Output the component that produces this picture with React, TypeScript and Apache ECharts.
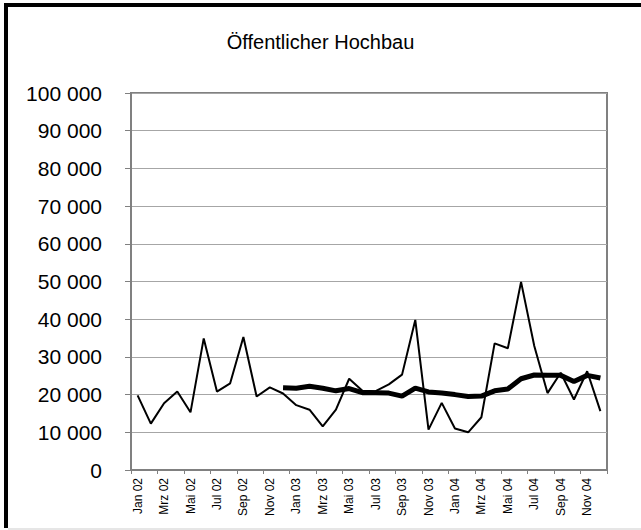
import React, { useEffect, useRef } from "react";
import * as echarts from "echarts";

const months = ["Jan", "Feb", "Mrz", "Apr", "Mai", "Jun", "Jul", "Aug", "Sep", "Okt", "Nov", "Dez"];
const years = ["02", "03", "04"];
const categories: string[] = years.flatMap((y) => months.map((m) => `${m} ${y}`));

const monthlyValues = [
  19800, 12300, 17700, 20800, 15300, 34900, 20800, 23000, 35300, 19500, 21900, 20300,
  17200, 16000, 11600, 16000, 24200, 21000, 20900, 22700, 25300, 39800, 10700, 17800,
  11000, 10000, 14000, 33600, 32300, 49900, 32900, 20400, 25800, 18700, 26200, 15600,
];

const movingAverage: (number | null)[] = [
  null, null, null, null, null, null, null, null, null, null, null, 21800,
  21700, 22200, 21700, 21000, 21600, 20500, 20500, 20400, 19600, 21700, 20700, 20400,
  20000, 19500, 19600, 21000, 21500, 24200, 25200, 25100, 25100, 23500, 25100, 24400,
];

const titleText = "Öffentlicher Hochbau";
const yMin = 0;
const yMax = 100000;
const yInterval = 10000;

const FONT = "'Liberation Sans', Arial, sans-serif";

function formatThousands(v: number): string {
  return String(v).replace(/\B(?=(\d{3})+(?!\d))/g, " ");
}

export default function App() {
  const ref = useRef<HTMLDivElement>(null);

  useEffect(() => {
    document.body.style.margin = "0";
    if (!ref.current) return;
    const chart = echarts.init(ref.current, null, { renderer: "svg" });
    chart.setOption({
      animation: false,
      backgroundColor: "#ffffff",
      title: {
        text: titleText,
        left: "center",
        top: 27,
        textStyle: { fontFamily: FONT, fontSize: 20, fontWeight: "normal", color: "#000" },
      },
      grid: {
        left: 131,
        top: 93,
        right: 34,
        bottom: 60,
        show: true,
        borderColor: "#808080",
        borderWidth: 2,
        backgroundColor: "transparent",
      },
      xAxis: {
        type: "category",
        data: categories,
        boundaryGap: true,
        axisLine: { show: true, lineStyle: { color: "#808080", width: 2 } },
        axisTick: { show: true, interval: 1, length: 4, lineStyle: { color: "#808080" } },
        axisLabel: {
          interval: 1,
          rotate: 90,
          margin: 8,
          fontSize: 12,
          fontFamily: FONT,
          color: "#000",
        },
        splitLine: { show: false },
      },
      yAxis: {
        type: "value",
        min: yMin,
        max: yMax,
        interval: yInterval,
        axisLine: { show: true, lineStyle: { color: "#808080", width: 2 } },
        axisTick: { show: true, length: 6, lineStyle: { color: "#808080" } },
        axisLabel: {
          margin: 29,
          fontSize: 21,
          fontFamily: FONT,
          color: "#000",
          formatter: (v: number) => formatThousands(v),
        },
        splitLine: { show: true, lineStyle: { color: "#a6a6a6", width: 1 } },
      },
      series: [
        {
          type: "line",
          data: monthlyValues,
          showSymbol: false,
          symbol: "none",
          lineStyle: { color: "#000", width: 2 },
          z: 2,
        },
        {
          type: "line",
          data: movingAverage,
          showSymbol: false,
          symbol: "none",
          connectNulls: false,
          lineStyle: { color: "#000", width: 5 },
          z: 3,
        },
      ],
      graphic: [
        { type: "rect", shape: { x: 4, y: 3, width: 637, height: 4 }, style: { fill: "#000" }, silent: true },
        { type: "rect", shape: { x: 4, y: 3, width: 4, height: 525 }, style: { fill: "#000" }, silent: true },
        { type: "rect", shape: { x: 8, y: 528, width: 633, height: 2 }, style: { fill: "#e6e6e6" }, silent: true },
      ],
    });
    return () => chart.dispose();
  }, []);

  return <div ref={ref} style={{ width: 641, height: 530 }} />;
}
